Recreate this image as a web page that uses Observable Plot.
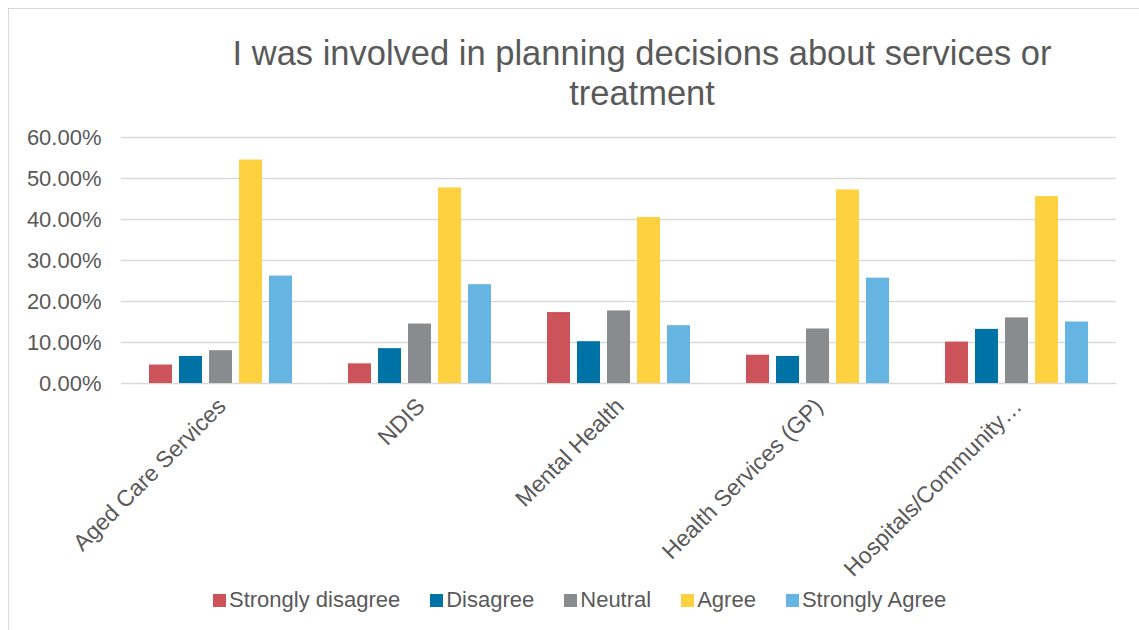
<!DOCTYPE html>
<html>
<head>
<meta charset="utf-8">
<script src="https://cdn.jsdelivr.net/npm/d3@7"></script>
<script src="https://cdn.jsdelivr.net/npm/@observablehq/plot@0.6"></script>
<style>
  html, body { margin: 0; padding: 0; background: #fff; }
  #wrap { position: relative; width: 1139px; height: 630px; overflow: hidden; background: #fff; font-family: "Liberation Sans", Arial, sans-serif; color: #595959; }
  #frame { position: absolute; left: 8px; top: 8px; width: 1200px; height: 700px; border: 1.5px solid #d9d9d9; box-sizing: border-box; }
  #title { position: absolute; left: 192px; width: 900px; top: 33px; text-align: center; font-size: 34.5px; line-height: 40px; white-space: nowrap; color: #595959; }
  #chart { position: absolute; left: 0; top: 120px; }
  #legend { position: absolute; left: 213px; top: 588px; display: flex; align-items: center; font-size: 22px; line-height: 24px; white-space: nowrap; }
  .item { display: flex; align-items: center; margin-right: 30px; }
  .sw { width: 13px; height: 13px; margin-right: 3px; }
</style>
</head>
<body>
<div id="wrap">
  <div id="frame"></div>
  <div id="title">I was involved in planning decisions about services or<br>treatment</div>
  <div id="chart"></div>
  <div id="legend"></div>
</div>
<script>
const categories = ["Aged Care Services", "NDIS", "Mental Health", "Health Services (GP)", "Hospitals/Community…"];
const series = ["Strongly disagree", "Disagree", "Neutral", "Agree", "Strongly Agree"];
const colors = ["#cd535a", "#0073a6", "#898c8f", "#fdd13f", "#65b4e2"];
const stronglyDisagree = [0.045, 0.048, 0.173, 0.069, 0.101];
const disagree         = [0.066, 0.085, 0.102, 0.066, 0.132];
const neutral          = [0.080, 0.145, 0.177, 0.133, 0.160];
const agree            = [0.545, 0.477, 0.405, 0.472, 0.456];
const stronglyAgree    = [0.262, 0.241, 0.141, 0.257, 0.150];
const yTicks = [0, 0.1, 0.2, 0.3, 0.4, 0.5, 0.6];

const seriesValues = [stronglyDisagree, disagree, neutral, agree, stronglyAgree];
const data = categories.flatMap((c, i) => series.map((s, j) => ({category: c, series: s, value: seriesValues[j][i]})));

const chart = Plot.plot({
  width: 1139,
  height: 460,
  marginLeft: 119,
  marginRight: 22,
  marginTop: 17,
  marginBottom: 197,
  style: {fontFamily: "'Liberation Sans', Arial, sans-serif", fontSize: "22px", color: "#595959", background: "transparent", overflow: "visible"},
  fx: {domain: categories, padding: 0, label: null},
  x: {domain: series, paddingInner: 0.226, paddingOuter: 0.832, axis: null},
  y: {domain: [0, 0.6], label: null},
  color: {domain: series, range: colors},
  marks: [
    Plot.gridY(yTicks, {stroke: "#d9d9d9", strokeOpacity: 1, strokeWidth: 1.5}),
    Plot.axisY(yTicks, {tickFormat: d3.format(".2%"), tickSize: 0, tickPadding: 20, label: null, fill: "#595959"}),
    Plot.axisFx({anchor: "bottom", tickRotate: -45, tickSize: 0, tickPadding: 19, dx: 1, fontSize: 23, label: null, fill: "#595959"}),
    Plot.barY(data, {fx: "category", x: "series", y: "value", fill: "series"})
  ]
});
document.getElementById("chart").appendChild(chart);

const legend = document.getElementById("legend");
series.forEach((s, i) => {
  const item = document.createElement("div");
  item.className = "item";
  const sw = document.createElement("span");
  sw.className = "sw";
  sw.style.background = colors[i];
  const t = document.createElement("span");
  t.textContent = s;
  item.appendChild(sw);
  item.appendChild(t);
  legend.appendChild(item);
});
</script>
</body>
</html>
